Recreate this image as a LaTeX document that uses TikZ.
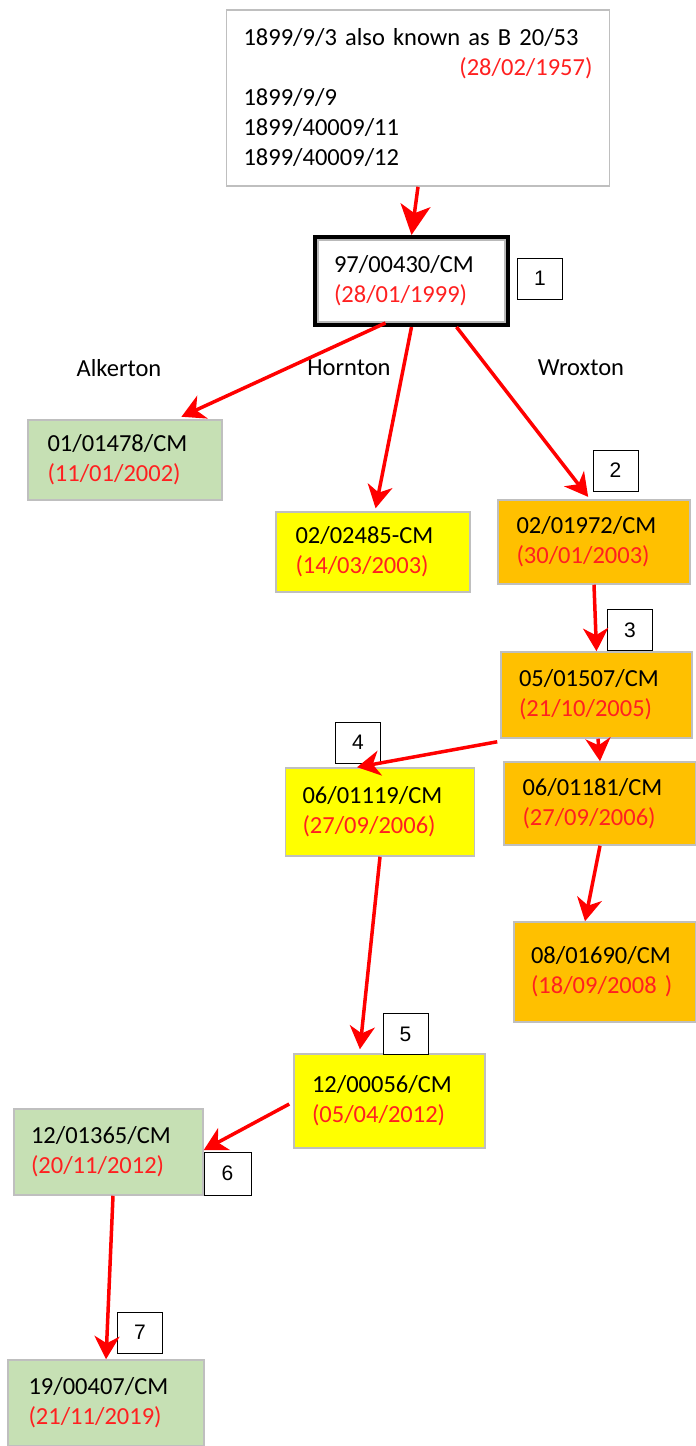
\documentclass[tikz,border=0pt]{standalone}
\usepackage{fontspec}
\setmainfont{Carlito}
\newfontfamily\numfont{Liberation Sans}
\usetikzlibrary{arrows.meta}
\definecolor{boxgreen}{HTML}{C6E0B4}
\definecolor{boxyellow}{HTML}{FFFF00}
\definecolor{boxorange}{HTML}{FFC000}
\definecolor{edgegray}{HTML}{BFBFBF}
\definecolor{datered}{HTML}{FF2020}
\newcommand{\appl}[2]{#1\\\textcolor{datered}{#2}}

\begin{document}
\begin{tikzpicture}[x=1pt, y=-1pt,
    every node/.style={font=\fontsize{24.5}{30}\selectfont},
    planbox/.style={draw=edgegray, line width=1.5pt, align=left, text width=155pt, inner xsep=17pt, inner ysep=0pt},
    greenbox/.style={planbox, fill=boxgreen},
    yellowbox/.style={planbox, fill=boxyellow},
    orangebox/.style={planbox, fill=boxorange},
    numbox/.style={draw, fill=white, line width=0.8pt, font=\numfont\fontsize{21}{24}\selectfont, minimum width=45pt, minimum height=41pt, inner sep=0pt},
    flow/.style={draw=red, line width=3.5pt, -{Stealth[length=23pt, width=25pt, inset=7pt]}}]
        \useasboundingbox (0,0) rectangle (696,1446);

        % old references
        \node[draw=edgegray, line width=1.5pt, align=left, text width=349pt, inner xsep=17pt, minimum height=176pt] (old) at (418, 98)
            {1899/9/3 also known as B 20/53\\
             \makebox[\linewidth][r]{\textcolor{datered}{(28/02/1957)}}\\
             1899/9/9\\1899/40009/11\\1899/40009/12};

        \node[draw=black, line width=4pt, align=left, text width=155pt, inner xsep=17pt, minimum width=193pt, minimum height=88pt,
              path picture={\draw[gray!55, line width=2.5pt] ([xshift=3pt, yshift=-3pt]path picture bounding box.north west) rectangle ([xshift=-3pt, yshift=3pt]path picture bounding box.south east);}]
            (main) at (411.5, 281) {\appl{97/00430/CM}{(28/01/1999)}};
        \node[numbox] (n1) at (540, 278.5) {1};

        % parishes
        \node (alk) at (119, 368) {Alkerton};
        \node (hor) at (349, 368) {Hornton};
        \node (wro) at (581, 368) {Wroxton};

        \node[greenbox, minimum width=194pt, minimum height=80pt] (g1) at (125, 460) {\appl{01/01478/CM}{(11/01/2002)}};
        \node[yellowbox, minimum width=194pt, minimum height=80pt] (y1) at (373, 552) {\appl{02/02485-CM}{(14/03/2003)}};
        \node[orangebox, minimum width=192pt, minimum height=84pt] (o1) at (594, 542) {\appl{02/01972/CM}{(30/01/2003)}};
        \node[numbox] (n2) at (615.5, 470.5) {2};

        \node[orangebox, minimum width=191pt, minimum height=86pt] (o2) at (596.5, 695) {\appl{05/01507/CM}{(21/10/2005)}};
        \node[numbox] (n3) at (630, 630) {3};

        \node[yellowbox, minimum width=188pt, minimum height=88pt] (y2) at (380, 812) {\appl{06/01119/CM}{(27/09/2006)}};
        \node[numbox] (n4) at (358, 742.5) {4};
        \node[orangebox, minimum width=192pt, minimum height=83pt] (o3) at (600, 803.5) {\appl{06/01181/CM}{(27/09/2006)}};
        \node[orangebox, minimum width=182pt, minimum height=100pt, text width=148pt] (o4) at (605, 972) {\appl{08/01690/CM}{(18/09/2008 )}};

        \node[yellowbox, minimum width=191pt, minimum height=94pt] (y3) at (389.5, 1101) {\appl{12/00056/CM}{(05/04/2012)}};
        \node[numbox] (n5) at (405.5, 1034) {5};
        \node[greenbox, minimum width=189pt, minimum height=86pt] (g2) at (108.5, 1152) {\appl{12/01365/CM}{(20/11/2012)}};
        \node[numbox, minimum width=47pt, minimum height=43pt] (n6) at (227.5, 1173.5) {6};

        \node[greenbox, minimum width=196pt, minimum height=86pt] (g3) at (106, 1403) {\appl{19/00407/CM}{(21/11/2019)}};
        \node[numbox] (n7) at (140, 1332.5) {7};

        % connectors
        \draw[flow, -{Stealth[length=30pt, width=30pt, inset=8pt]}] (old.south) -- (main.north);
        \draw[flow, shorten >=6pt] ([xshift=-26pt, yshift=4pt]main.south) -- ([xshift=51pt]g1.north);
        \draw[flow, shorten >=3pt] (main.south) -- ([xshift=2pt]y1.north);
        \draw[flow, shorten >=3pt] ([xshift=45pt]main.south) -- ([xshift=-4pt]o1.north);
        \draw[flow] (o1.south) -- (o2.north);
        \draw[flow] ([xshift=-3pt, yshift=-3pt]o2.south west) -- ([xshift=-23pt]y2.north);
        \draw[flow] ([xshift=1.5pt]o2.south) -- (o3.north);
        \draw[flow] (o3.south) -- ([xshift=-20pt]o4.north);
        \draw[flow, shorten >=4pt] (y2.south) -- ([xshift=-30pt]y3.north);
        \draw[flow] ([xshift=-4pt, yshift=-3pt]y3.west) -- ([yshift=2pt]g2.east);
        \draw[flow] ([xshift=4.5pt]g2.south) -- (g3.north);
\end{tikzpicture}
\end{document}
